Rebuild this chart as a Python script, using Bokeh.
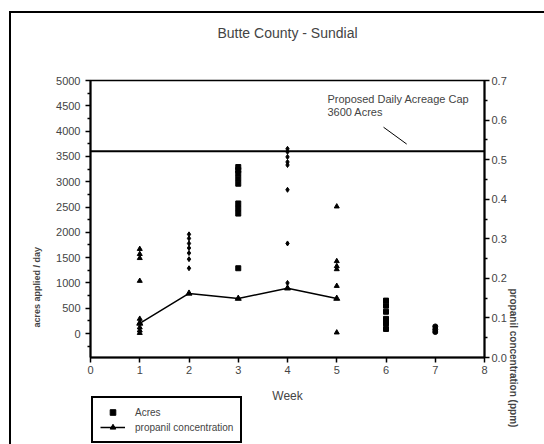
from bokeh.plotting import figure
from bokeh.layouts import column
from bokeh.models import (Range1d, LinearAxis, Span, Label, Legend, LegendItem,
                          FixedTicker, ColumnDataSource, Title)
from bokeh.embed import file_html
from bokeh.resources import INLINE

FONT = "Liberation Sans"

# ---- data ----
title = "Butte County - Sundial"
x_label = "Week"
left_label = "acres applied / day"
right_label = "propanil concentration (ppm)"
cap_value = 3600
cap_text1 = "Proposed Daily Acreage Cap"
cap_text2 = "3600 Acres"
legend_labels = ["Acres", "propanil concentration"]

week1_acres = [1670, 1570, 1490, 1040, 290, 210, 120, 60, 10]
week2_acres = [1960, 1880, 1780, 1690, 1590, 1470, 1290]
week3_acres = [3290, 3230, 3160, 3060, 2960, 2570, 2470, 2370, 1290]
week4_acres = [3650, 3590, 3490, 3390, 3330, 2840, 1780, 1000]
week5_acres = [2510, 1430, 1330, 1270, 940, 20]
week6_acres = [650, 550, 430, 290, 200, 90]
week7_acres = [140, 80, 30]

conc_weeks = [1, 2, 3, 4, 5]
conc_values = [0.086, 0.162, 0.149, 0.175, 0.149]

x_ticks = [0, 1, 2, 3, 4, 5, 6, 7, 8]
left_ticks = [0, 500, 1000, 1500, 2000, 2500, 3000, 3500, 4000, 4500, 5000]
right_ticks = [0.0, 0.1, 0.2, 0.3, 0.4, 0.5, 0.6, 0.7]
right_tick_labels = ["0.0", "0.1", "0.2", "0.3", "0.4", "0.5", "0.6", "0.7"]

# ---- build table ----
groups = [week1_acres, week2_acres, week3_acres, week4_acres,
          week5_acres, week6_acres, week7_acres]
week_marker = {1: "triangle", 2: "diamond", 3: "square", 4: "diamond",
               5: "triangle", 6: "square", 7: "circle"}
wk, ac, mk = [], [], []
for i, g in enumerate(groups, start=1):
    for v in g:
        wk.append(i)
        ac.append(v)
        mk.append(week_marker[i])
src = ColumnDataSource(dict(week=wk, acres=ac, marker=mk))

W = 533
p = figure(width=W, height=431, x_range=Range1d(0, 8), y_range=Range1d(-474, 5000),
           output_backend="svg", toolbar_location=None, title=None,
           min_border_left=79, min_border_top=67, min_border_right=60, min_border_bottom=87)
p.background_fill_color = "white"
p.border_fill_color = "white"
p.xgrid.visible = False
p.ygrid.visible = False
p.outline_line_color = "black"
p.outline_line_width = 1.5

# title, pushed away from the frame by an empty spacer title
p.add_layout(Title(text=" ", text_font_size="21px"), "above")
p.add_layout(Title(text=title, align="center", text_font=FONT, text_font_size="14px",
                   text_font_style="normal"), "above")

p.extra_y_ranges = {"conc": Range1d(0, 0.7)}
raxis = LinearAxis(y_range_name="conc")
p.add_layout(raxis, "right")

def style_axis(ax):
    ax.axis_line_width = 2
    ax.axis_line_color = "black"
    ax.major_tick_line_width = 1.5
    ax.minor_tick_line_width = 1.5
    ax.major_tick_out = 5
    ax.major_tick_in = 0
    ax.minor_tick_out = 3
    ax.minor_tick_in = 0
    ax.major_label_text_font = FONT
    ax.major_label_text_font_size = "11px"
    ax.major_label_standoff = 3

xa = p.xaxis[0]
style_axis(xa)
xa.ticker = FixedTicker(ticks=x_ticks, minor_ticks=[])
xa.axis_label = x_label
xa.axis_label_text_font = FONT
xa.axis_label_text_font_size = "12px"
xa.axis_label_text_font_style = "normal"
xa.axis_label_standoff = 12

ya = p.yaxis[0]
style_axis(ya)
ya.ticker = FixedTicker(ticks=left_ticks,
                        minor_ticks=[t + 250 for t in [-500] + left_ticks[:-1]])
ya.major_label_standoff = 5

style_axis(raxis)
raxis.ticker = FixedTicker(ticks=right_ticks,
                           minor_ticks=[t + 0.05 for t in right_ticks[:-1]])
raxis.major_label_overrides = {t: s for t, s in zip(right_ticks, right_tick_labels)}
raxis.major_label_standoff = 2

# axis titles as side titles
p.add_layout(Title(text=left_label, align="left", offset=30, standoff=24,
                   text_font=FONT, text_font_size="9px", text_font_style="bold"), "left")
p.add_layout(Title(text=right_label, align="left", offset=208, standoff=-4,
                   text_font=FONT, text_font_size="10px", text_font_style="bold"), "right")

# cap line
p.add_layout(Span(location=cap_value, dimension="width", line_color="black", line_width=2))

# acres points
p.scatter(x="week", y="acres", marker="marker", source=src, size=5, color="black")

# propanil concentration
p.line(conc_weeks, conc_values, y_range_name="conc", line_color="black", line_width=1.5)
p.scatter(conc_weeks, conc_values, y_range_name="conc", marker="triangle",
          size=6, color="black")

# annotation
ANN_X = 4.81
ANN_Y1 = 4625
ANN_Y2 = 4368
for yy, tt in [(ANN_Y1, cap_text1), (ANN_Y2, cap_text2)]:
    p.add_layout(Label(x=ANN_X, y=yy, text=tt, text_font=FONT, text_font_size="11px",
                       text_baseline="middle", text_align="left"))
PTR_X0, PTR_Y0, PTR_X1, PTR_Y1 = 5.95, 4077, 6.42, 3744
p.segment(x0=[PTR_X0], y0=[PTR_Y0], x1=[PTR_X1], y1=[PTR_Y1], line_color="black",
          line_width=1)

# ---- legend strip (separate transparent figure laid over the chart's bottom) ----
LH = 49
q = figure(width=W, height=LH, x_range=Range1d(0, 1), y_range=Range1d(0, 1),
           output_backend="svg", toolbar_location=None, title=None,
           x_axis_type=None, y_axis_type=None, min_border=0)
q.outline_line_color = None
q.xgrid.visible = False
q.ygrid.visible = False
q.background_fill_color = None
q.border_fill_color = None
q.margin = (-LH, 0, 0, 0)
r_acres = q.scatter(x=[-5], y=[-5], marker="square", size=5, color="black")
r_line = q.line(x=[-5, -4], y=[-5, -4], line_color="black", line_width=1.5)
r_tri = q.scatter(x=[-5], y=[-5], marker="triangle", size=6, color="black")

legend = Legend(items=[LegendItem(label=legend_labels[0], renderers=[r_acres]),
                       LegendItem(label=legend_labels[1], renderers=[r_line, r_tri])],
                location="top_left")
legend.border_line_color = "black"
legend.border_line_alpha = 1.0
legend.border_line_width = 2
legend.label_text_font = FONT
legend.label_text_font_size = "10px"
legend.glyph_width = 25
legend.glyph_height = 14
legend.label_height = 14
legend.spacing = 1
legend.padding = 7
legend.margin = 1
legend.label_standoff = 10
legend.background_fill_color = "white"
legend.background_fill_alpha = 1.0
q.add_layout(legend)

layout = column(p, q, spacing=0)
layout.margin = (11, 0, 0, 9)
layout.styles = {"border-left": "2px solid black", "border-top": "2px solid black"}

open("out.html", "w").write(file_html(layout, INLINE))
